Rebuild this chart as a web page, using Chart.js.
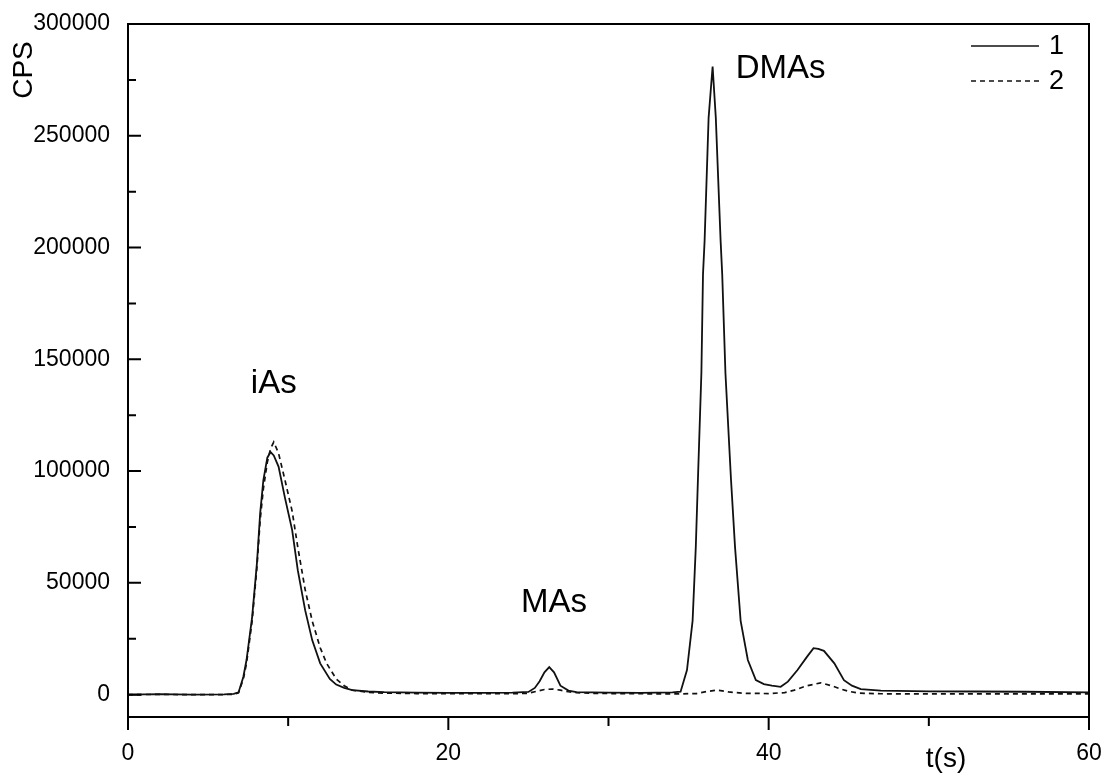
<!DOCTYPE html>
<html>
<head>
<meta charset="utf-8">
<title>CPS vs t(s)</title>
<script src="https://cdn.jsdelivr.net/npm/chart.js@4.4.0/dist/chart.umd.min.js"></script>
<style>
  html, body { margin: 0; padding: 0; background: #fff; }
  canvas { display: block; }
</style>
</head>
<body>
<canvas id="chromChart" width="1106" height="775"></canvas>
<script>
// Trace 1 (solid)
const time1 = [0, 2, 4, 6, 6.6, 6.9, 7.2, 7.4, 7.75, 8.05, 8.25, 8.45, 8.7, 8.9, 9.1, 9.4, 9.8, 10.25, 10.6, 11.06,
  11.5, 12.0, 12.6, 13.0, 13.5, 14, 15, 16, 18, 20, 22, 24, 25, 25.4, 25.7, 26.0, 26.3, 26.6, 27.0, 27.5,
  28, 30, 32, 34, 34.5, 34.9, 35.25, 35.45, 35.6, 35.8, 35.9, 36.0, 36.25, 36.5, 36.7, 37.0, 37.1, 37.3, 37.65, 37.9,
  38.25, 38.7, 39.2, 39.7, 40.2, 40.75, 41.2, 41.8, 42.4, 42.8, 43.1, 43.45, 44.1, 44.7, 45.2, 45.75, 47, 50, 53, 56, 60];
const cps1 = [0, 200, 0, 100, 300, 1000, 7900, 15500, 34700, 58800, 81000, 95900, 106000, 108500, 107000, 102000, 88000, 73600, 55700, 37800,
  24400, 14000, 7000, 4500, 3000, 2000, 1400, 1100, 900, 800, 800, 900, 1200, 3000, 6000, 10000, 12300, 10000, 4000, 1800,
  1100, 900, 800, 1000, 1300, 11000, 33000, 66000, 100000, 144000, 188000, 203000, 258000, 281000, 258000, 203000, 188000, 144000, 96000, 66000,
  33000, 15500, 6500, 4700, 4000, 3500, 5800, 11000, 17000, 20800, 20500, 19600, 14000, 6500, 4000, 2500, 1800, 1500, 1400, 1300, 1000];

// Trace 2 (dashed)
const time2 = [0, 2, 4, 6, 6.6, 6.9, 7.2, 7.4, 7.75, 8.05, 8.25, 8.45, 8.7, 8.9, 9.1, 9.4, 9.8, 10.25, 10.6, 11.06,
  11.5, 12.0, 12.4, 13.0, 13.5, 14, 15, 16, 18, 20, 22, 24, 25, 25.5, 26.0, 26.5, 27.0, 27.5, 28, 29,
  30, 32, 34, 35.5, 36.2, 36.8, 37.5, 38.5, 40, 41, 41.6, 42.3, 43.25, 44, 44.5, 45, 45.6, 47, 50, 53, 56, 60];
const cps2 = [0, 100, 0, 0, 200, 800, 7000, 14000, 33000, 57000, 78000, 92000, 104000, 110000, 113000, 108000, 96000, 82000, 66000, 47000,
  33000, 21000, 14000, 7000, 4000, 2000, 1000, 700, 500, 400, 400, 400, 600, 1500, 2300, 2500, 2000, 1300, 900, 600,
  500, 400, 300, 500, 1500, 2000, 1200, 600, 500, 900, 2000, 3800, 5300, 3800, 2500, 1500, 700, 400, 300, 300, 300, 300];

// Axis ticks
const xMajor = [0, 20, 40, 60];
const xMinor = [10, 30, 50];
const yMajor = [0, 50000, 100000, 150000, 200000, 250000, 300000];
const yMinor = [25000, 75000, 125000, 175000, 225000, 275000];

// Peak names and where they sit (t, CPS)
const peakNames = ['iAs', 'MAs', 'DMAs'];
const peakT = [9.1, 26.6, 40.75];
const peakCps = [139000, 41000, 280000];

const seriesNames = ['1', '2'];

const FONT = "'Liberation Sans', Arial, sans-serif";

const toPoints = (ts, vs) => ts.map((t, i) => ({ x: t, y: vs[i] }));

// Frame, inward/outward ticks, legend and labels
const decorations = {
  id: 'decorations',
  afterDraw(chart) {
    const { ctx, chartArea: a, scales: { x, y } } = chart;
    ctx.save();
    ctx.strokeStyle = '#000';
    ctx.fillStyle = '#000';
    ctx.lineWidth = 2;
    ctx.strokeRect(a.left, a.top, a.right - a.left, a.bottom - a.top);

    // y ticks point into the plot
    ctx.beginPath();
    yMajor.forEach(v => { const py = y.getPixelForValue(v); ctx.moveTo(a.left, py); ctx.lineTo(a.left + 13, py); });
    yMinor.forEach(v => { const py = y.getPixelForValue(v); ctx.moveTo(a.left, py); ctx.lineTo(a.left + 8, py); });
    // x ticks point out below the axis
    xMajor.forEach(v => { const px = x.getPixelForValue(v); ctx.moveTo(px, a.bottom); ctx.lineTo(px, a.bottom + 13); });
    xMinor.forEach(v => { const px = x.getPixelForValue(v); ctx.moveTo(px, a.bottom); ctx.lineTo(px, a.bottom + 9); });
    ctx.stroke();

    // peak names
    ctx.font = '33px ' + FONT;
    ctx.textAlign = 'center';
    ctx.textBaseline = 'middle';
    peakNames.forEach((name, i) => {
      ctx.fillText(name, x.getPixelForValue(peakT[i]), y.getPixelForValue(peakCps[i]));
    });

    // axis titles
    ctx.font = '28px ' + FONT;
    ctx.fillText('t(s)', 946, 759);
    ctx.save();
    ctx.translate(24, 70);
    ctx.rotate(-Math.PI / 2);
    ctx.fillText('CPS', 0, 0);
    ctx.restore();

    // legend
    ctx.font = '27px ' + FONT;
    ctx.textAlign = 'left';
    chart.data.datasets.forEach((ds, i) => {
      const ly = 46 + i * 35;
      ctx.save();
      ctx.lineWidth = 1.6;
      ctx.strokeStyle = ds.borderColor;
      ctx.setLineDash(ds.borderDash || []);
      ctx.beginPath();
      ctx.moveTo(971, ly);
      ctx.lineTo(1039, ly);
      ctx.stroke();
      ctx.restore();
      ctx.fillText(seriesNames[i], 1049, ly + 1);
    });
    ctx.restore();
  }
};

new Chart(document.getElementById('chromChart'), {
  type: 'scatter',
  data: {
    datasets: [
      {
        label: seriesNames[0],
        data: toPoints(time1, cps1),
        showLine: true,
        borderColor: '#111',
        borderWidth: 1.8,
        pointRadius: 0,
        tension: 0
      },
      {
        label: seriesNames[1],
        data: toPoints(time2, cps2),
        showLine: true,
        borderColor: '#111',
        borderWidth: 1.7,
        borderDash: [5, 4],
        pointRadius: 0,
        tension: 0
      }
    ]
  },
  options: {
    responsive: false,
    animation: false,
    devicePixelRatio: 1,
    layout: { padding: { left: 0, top: 24, right: 17, bottom: 0 } },
    plugins: {
      legend: { display: false },
      tooltip: { enabled: false }
    },
    scales: {
      x: {
        type: 'linear',
        min: 0,
        max: 60,
        grid: { display: false, drawTicks: false },
        border: { display: false },
        ticks: { color: '#000', padding: 23, font: { family: FONT, size: 23 }, callback: v => String(v) },
        afterBuildTicks: scale => { scale.ticks = xMajor.map(v => ({ value: v })); },
        afterFit: scale => { scale.height = 58; scale.paddingLeft = 0; scale.paddingRight = 0; }
      },
      y: {
        type: 'linear',
        min: -10000,
        max: 300000,
        grid: { display: false, drawTicks: false },
        border: { display: false },
        ticks: { color: '#000', padding: 18, font: { family: FONT, size: 23 }, callback: v => String(v) },
        afterBuildTicks: scale => { scale.ticks = yMajor.map(v => ({ value: v })); },
        afterFit: scale => { scale.width = 128; scale.paddingTop = 0; scale.paddingBottom = 0; }
      }
    }
  },
  plugins: [decorations]
});
</script>
</body>
</html>
